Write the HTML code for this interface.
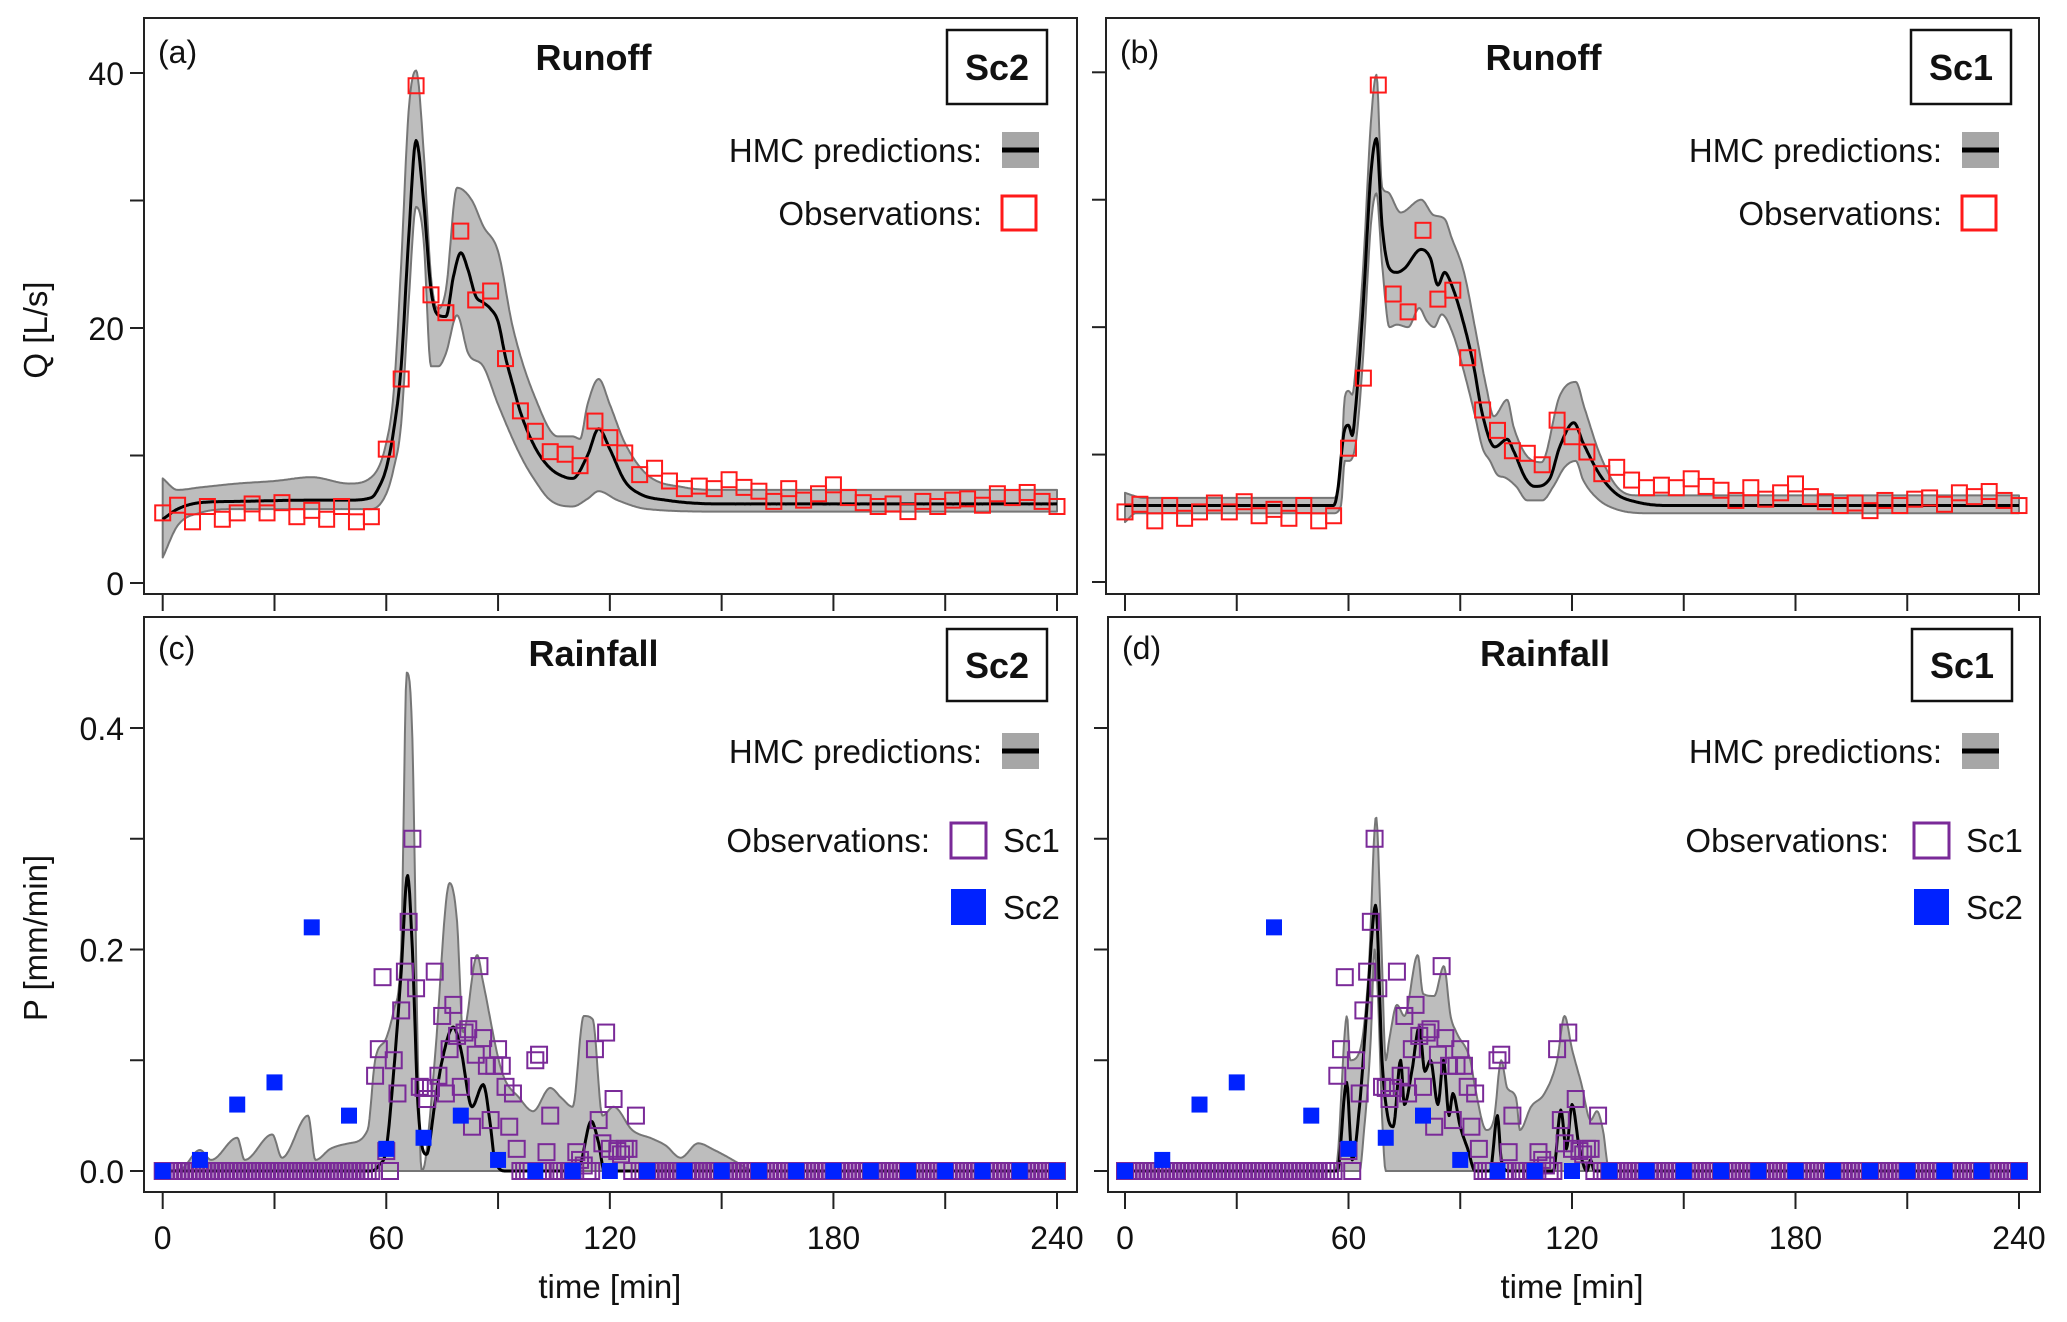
<!DOCTYPE html>
<html><head><meta charset="utf-8"><style>
html,body{margin:0;padding:0;background:#fff;}
svg{display:block;font-family:"Liberation Sans",Arial,sans-serif;}
</style></head><body>
<svg id="fig" width="2067" height="1322" viewBox="0 0 2067 1322" xmlns="http://www.w3.org/2000/svg"></svg>
<script>
// ---------- DATA ----------
const xTicks=[0,30,60,90,120,150,180,210,240];
const xTickLabels=["0","","60","","120","","180","","240"];
const qTicks=[0,10,20,30,40];
const qTickLabels=["0","","20","","40"];
const pTicks=[0,0.1,0.2,0.3,0.4];
const pTickLabels=["0.0","","0.2","","0.4"];

const obsQT=[0,4,8,12,16,20,24,28,32,36,40,44,48,52,56,60,64,68,72,76,80,84,88,92,96,100,104,108,112,116,120,124,128,132,136,140,144,148,152,156,160,164,168,172,176,180,184,188,192,196,200,204,208,212,216,220,224,228,232,236,240];
const obsQV=[5.5,6.1,4.8,6.0,5.0,5.5,6.2,5.5,6.3,5.2,5.7,5.0,6.0,4.8,5.2,10.5,16.0,39.0,22.6,21.2,27.6,22.2,22.9,17.6,13.5,11.9,10.3,10.1,9.2,12.7,11.4,10.2,8.5,9.0,8.0,7.4,7.6,7.4,8.1,7.5,7.2,6.4,7.4,6.5,7.0,7.7,6.7,6.3,6.0,6.2,5.6,6.4,6.0,6.5,6.6,6.1,7.0,6.7,7.1,6.4,6.0];

const aMedT=[0,4,10,20,40,50,56,58,60,62,64,66,68,70,72,74,76,78,80,82,84,86,88,90,92,94,96,100,104,108,110,114,117,120,124,128,135,150,240];
const aMedV=[5.0,5.8,6.3,6.4,6.5,6.5,6.7,7.5,9,12,17,27,34.7,30,23,21,20.9,24,25.9,24.5,22.5,22,21.5,20.5,17.7,15.5,13.4,10.6,9.0,8.3,8.2,10,12.1,10.5,8,7,6.5,6.2,6.2];
const aUpT=[0,4,10,20,30,40,50,56,60,62,64,66,68,70,72,74,76,79,83,86,90,94,100,106,110,112,114,117,120,124,130,140,150,240];
const aUpV=[8.2,7.3,7.5,7.8,8.0,8.3,7.8,8.3,11,15,25,37,40.2,34,24,21.5,23,31,30,28,26,20,14.5,11.5,11.5,11.3,14,16,14,11,8.5,7.5,7.3,7.3];
const aLoT=[0,4,10,20,56,60,62,64,66,68,70,72,74,76,79,82,86,90,96,100,104,110,114,117,122,130,150,240];
const aLoV=[2,4.5,5.5,5.8,5.8,7,9,12.5,22,29.5,27,17,17,18,21,18,17,14,10,8,6.5,6.0,6.6,7.2,6.5,5.8,5.6,5.6];

const bMedT=[0,56,57,59,60,61,62,64,66,67.5,69,71,73,75,79.5,82,84,85.8,87.7,91,93.5,96,99.3,102.6,104.3,107.6,110,114,116.7,120.5,123,127.5,132,137,145.7,240];
const bMedV=[6.0,6.0,7,12,12.3,11.5,14,22,32,34.8,28,24.6,24.3,24.6,26.1,25.4,23.3,24.3,23.3,20.2,17.1,13.1,10.6,11.2,10.3,8.1,7.5,8.1,10.6,12.5,10.9,8.4,6.9,6.3,6.0,6.0];
const bUpT=[0,2,5,56,58,59,60,61,62,64,66,67.5,69,70.5,74,79.5,82.8,85.8,87.7,91,94,97,99,102.6,104.3,107.6,111.8,116.7,121,123.3,127.5,132,137,150,240];
const bUpV=[7.0,6.8,6.6,6.6,9,14.5,15,14.7,17,25,36,39.8,31,30.6,29,30,28.8,28.5,27,24.3,19.9,15.3,13,14.3,12.2,10,9.4,14.6,15.7,13.7,10,7.5,6.8,6.8,6.8];
const bLoT=[0,3,10,56,58,59,60,62,64,66,67.5,69,71,73,76,79,81,83,85,88,91,94,96,98,100,102,105,108,112,115,118,121,123,127,132,140,240];
const bLoV=[4.7,5.4,5.4,5.4,6,9.5,9.5,11,18,28,30.5,25,20,20.2,20,21.5,20.5,20,21,19.5,16.5,13,10.5,9.5,8.4,8.2,7.5,6.4,6.4,7.5,9,9.5,8,6.5,5.7,5.4,5.4];

// rainfall observations
const obsSc1=[0,0,0,0,0,0,0,0,0,0, 0,0,0,0,0,0,0,0,0,0, 0,0,0,0,0,0,0,0,0,0, 0,0,0,0,0,0,0,0,0,0, 0,0,0,0,0,0,0,0,0,0, 0,0,0,0,0,0,0,
 0.086,0.11,0.175,0.018,0,0.1,0.07,0.145,0.18,0.225,0.30,0.165,0.076,0.075,0.065,0.075,0.18,0.086,0.14,0.07,0.11,0.15,0.122,0.076,0.125,0.128,0.04,0.105,0.185,0.12,0.095,0.046,0.095,0.11,0.095,0.076,0.04,0.07,0.02,0,0,0,0,0.1,0.105,0,0.017,0.05,0,0,0,0,0,0,0.017,0.01,0.005,0,0,0.11,0.046,0.025,0.125,0.02,0.065,0.018,0.015,0.02,0.02,0,0.05,
 0,0,0,0,0,0,0,0,0,0,0,0,0,0,0,0,0,0,0,0, 0,0,0,0,0,0,0,0,0,0,0,0,0,0,0,0,0,0,0,0, 0,0,0,0,0,0,0,0,0,0,0,0,0,0,0,0,0,0,0,0, 0,0,0,0,0,0,0,0,0,0,0,0,0,0,0,0,0,0,0,0, 0,0,0,0,0,0,0,0,0,0,0,0,0,0,0,0,0,0,0,0, 0,0,0,0,0,0,0,0,0,0,0,0,0];
const obsSc2T=[0,10,20,30,40,50,60,70,80,90,100,110,120,130,140,150,160,170,180,190,200,210,220,230,240];
const obsSc2V=[0,0.01,0.06,0.08,0.22,0.05,0.02,0.03,0.05,0.01,0,0,0,0,0,0,0,0,0,0,0,0,0,0,0];

const cMedT=[0,56,58,60,62,64,65.7,67,68.5,70.8,73,75,78,80,83,86,88,89,92,110,112,115,117,118.5,240];
const cMedV=[0,0,0.005,0.02,0.09,0.18,0.267,0.2,0.06,0.015,0.06,0.1,0.13,0.11,0.058,0.078,0.04,0.012,0,0,0.005,0.045,0.025,0,0];
const cUpT=[0,5,10,13,20,22,29.4,32,39,41,45,50,55,57,60,62,64,65.5,67,68.5,69.5,70.5,73,77,79,80.6,84.4,86,91,95.7,99.4,104,107,110,113,115.4,118,121,126,131.5,135,139,143.7,148,154,157,160,240];
const cUpV=[0,0.002,0.019,0.01,0.03,0.01,0.033,0.012,0.05,0.01,0.02,0.025,0.037,0.1,0.12,0.145,0.2,0.45,0.39,0.1,0,0.01,0.1,0.26,0.225,0.125,0.195,0.17,0.09,0.066,0.054,0.075,0.066,0.058,0.14,0.137,0.05,0.058,0.037,0.029,0.023,0.012,0.025,0.019,0.008,0.002,0,0];
const cLoT=[0,240];
const cLoV=[0,0];

const dMedT=[0,57,59.5,61,63,65,67.3,69,70.5,72,74,75,77,79,80.5,82,84,85.5,87,88,90,92,94,98,100,101,103,115,117,118.5,120,122,124,125,126,240];
const dMedV=[0,0,0.08,0.01,0.06,0.15,0.24,0.1,0.05,0.04,0.1,0.06,0.09,0.13,0.09,0.1,0.06,0.1,0.05,0.07,0.04,0.02,0,0,0.05,0.01,0,0,0.055,0.02,0.06,0.02,0,0.01,0,0];
const dUpT=[0,56,57,59.6,60.4,63,65.4,67.4,68.7,70,71,73,75,78.6,80,83,85.6,87.4,89,92.7,94,97,99,101,102.6,105,106,109,112.6,116,118,120,122.5,125,126.7,128.3,130,240];
const dUpV=[0,0,0.01,0.14,0.1,0.108,0.18,0.32,0.22,0.1,0.12,0.15,0.14,0.195,0.16,0.158,0.185,0.14,0.125,0.1,0.075,0.037,0.046,0.1,0.075,0.066,0.037,0.058,0.07,0.1,0.14,0.11,0.079,0.046,0.054,0.037,0,0];
const dLoT=[0,63,64,66,67,68,69,70,240];
const dLoV=[0,0,0.03,0.12,0.2,0.15,0.05,0,0];

// ---------- DRAW ----------
const NS="http://www.w3.org/2000/svg";
const svg=document.getElementById('fig');
function mk(tag,attrs,parent){const e=document.createElementNS(NS,tag);for(const k in attrs)e.setAttribute(k,attrs[k]);(parent||svg).appendChild(e);return e;}
function txt(s,attrs,parent){const e=mk('text',attrs,parent);e.textContent=s;return e;}

// monotone cubic (Fritsch-Carlson) interpolation
function mono(T,V){
  const n=T.length,d=[],m=new Array(n).fill(0);
  for(let i=0;i<n-1;i++)d.push((V[i+1]-V[i])/(T[i+1]-T[i]));
  m[0]=d[0];m[n-1]=d[n-2];
  for(let i=1;i<n-1;i++){m[i]=(d[i-1]*d[i]<=0)?0:(d[i-1]+d[i])/2;}
  for(let i=0;i<n-1;i++){if(d[i]===0){m[i]=0;m[i+1]=0;continue;}
    const a=m[i]/d[i],b=m[i+1]/d[i],s=a*a+b*b;if(s>9){const t=3/Math.sqrt(s);m[i]=t*a*d[i];m[i+1]=t*b*d[i];}}
  return function(t){
    if(t<=T[0])return V[0];if(t>=T[n-1])return V[n-1];
    let i=0;while(t>T[i+1])i++;
    const h=T[i+1]-T[i],s=(t-T[i])/h,s2=s*s,s3=s2*s;
    return (2*s3-3*s2+1)*V[i]+(s3-2*s2+s)*h*m[i]+(-2*s3+3*s2)*V[i+1]+(s3-s2)*h*m[i+1];
  };
}

const panels=[
 {id:'a',fx:144,fy:18,fx2:1077,fy2:594,x0:162.7,x1:1057,y0:583,yTop:73,vmax:40,kind:'q',tag:'(a)',title:'Runoff',sc:'Sc2',med:[aMedT,aMedV],up:[aUpT,aUpV],lo:[aLoT,aLoV],left:true},
 {id:'b',fx:1106,fy:18,fx2:2039,fy2:594,x0:1125,x1:2019,y0:582,yTop:72.3,vmax:40,kind:'q',tag:'(b)',title:'Runoff',sc:'Sc1',med:[bMedT,bMedV],up:[bUpT,bUpV],lo:[bLoT,bLoV],left:false},
 {id:'c',fx:144,fy:617,fx2:1077,fy2:1192,x0:162.7,x1:1057,y0:1171,yTop:728,vmax:0.4,kind:'p',tag:'(c)',title:'Rainfall',sc:'Sc2',med:[cMedT,cMedV],up:[cUpT,cUpV],lo:[cLoT,cLoV],left:true},
 {id:'d',fx:1108,fy:617,fx2:2040,fy2:1192,x0:1125,x1:2019,y0:1171,yTop:728,vmax:0.4,kind:'p',tag:'(d)',title:'Rainfall',sc:'Sc1',med:[dMedT,dMedV],up:[dUpT,dUpV],lo:[dLoT,dLoV],left:false}
];

panels.forEach(p=>{
  const g=mk('g',{});
  
  
  const X=t=>p.x0+(p.x1-p.x0)*t/240;
  const Y=v=>p.y0+(p.yTop-p.y0)*v/p.vmax;
  const fUp=mono(p.up[0],p.up[1]),fLo=mono(p.lo[0],p.lo[1]),fMed=mono(p.med[0],p.med[1]);
  const ts=[];for(let t=0;t<=240;t+=0.25)ts.push(t);
  const clamp=v=>p.kind==='p'?Math.max(0,v):v;
  // band
  let d='';ts.forEach((t,i)=>{d+=(i?'L':'M')+X(t).toFixed(1)+','+Y(clamp(fUp(t))).toFixed(1);});
  for(let i=ts.length-1;i>=0;i--){const t=ts[i];d+='L'+X(t).toFixed(1)+','+Y(clamp(fLo(t))).toFixed(1);}
  d+='Z';
  const band=mk('path',{d:d,fill:'#bdbdbd',stroke:'#767676','stroke-width':2,'stroke-linejoin':'round'},g);
  
  
  // median
  let dm='';ts.forEach((t,i)=>{dm+=(i?'L':'M')+X(t).toFixed(1)+','+Y(clamp(fMed(t))).toFixed(1);});
  const ml=mk('path',{d:dm,fill:'none',stroke:'#000','stroke-width':3,'stroke-linejoin':'round'},g);
  
  
  // observations
  if(p.kind==='q'){
    obsQT.forEach((t,i)=>{
      const r=mk('rect',{x:X(t)-7.5,y:Y(obsQV[i])-7.5,width:15,height:15,fill:'none',stroke:'#ff1a1a','stroke-width':2},g);
      
      
    });
  } else {
    obsSc1.forEach((v,t)=>{
      const r=mk('rect',{x:X(t)-8,y:Y(v)-8,width:16,height:16,fill:'none',stroke:'#7a2a98','stroke-width':2},g);
      
      
    });
    obsSc2T.forEach((t,i)=>{
      const r=mk('rect',{x:X(t)-8,y:Y(obsSc2V[i])-8,width:16,height:16,fill:'#0022ff'},g);
      
      
    });
  }
  // frame
  const fr=mk('rect',{x:p.fx,y:p.fy,width:p.fx2-p.fx,height:p.fy2-p.fy,fill:'none',stroke:'#222','stroke-width':2},g);
  
  
  // y ticks
  const yt=p.kind==='q'?qTicks:pTicks, yl=p.kind==='q'?qTickLabels:pTickLabels;
  yt.forEach((v,i)=>{
    const tk=mk('line',{x1:p.fx-14,x2:p.fx,y1:Y(v),y2:Y(v),stroke:'#222','stroke-width':2},g);
    
    
    if(p.left&&yl[i]){const l=txt(yl[i],{x:p.fx-20,y:Y(v)+12,'font-size':32,'text-anchor':'end',fill:'#111'},g);
      
      }
  });
  // x ticks
  xTicks.forEach((t,i)=>{
    const tk=mk('line',{x1:X(t),x2:X(t),y1:p.fy2,y2:p.fy2+17,stroke:'#222','stroke-width':2},g);
    
    
    if(p.kind==='p'&&xTickLabels[i]){const l=txt(xTickLabels[i],{x:X(t),y:1249,'font-size':32,'text-anchor':'middle',fill:'#111'},g);
      
      }
  });
  if(p.kind==='p'){const xl=txt('time [min]',{x:X(120),y:1298,'font-size':33,'text-anchor':'middle',fill:'#111'},g);
    
    }
  // labels
  const ty=p.fy+ (p.kind==='q'?45:42);
  const tg=txt(p.tag,{x:p.fx+14,y:ty,'font-size':32,fill:'#111'},g);
  
  
  const tt=txt(p.title,{x:(p.fx+p.fx2)/2+(p.id==='a'||p.id==='c'?-17:-29),y:ty+7,'font-size':36,'font-weight':'bold','text-anchor':'middle',fill:'#111'},g);
  
  
  const bx=p.fx2-(p.id==='a'||p.id==='c'?130:128);
  const by=p.fy+12, bh=p.kind==='q'?74:72;
  const sb=mk('rect',{x:bx,y:by,width:100,height:bh,fill:'#fff',stroke:'#111','stroke-width':2.5},g);
  
  
  const st=txt(p.sc,{x:bx+50,y:by+bh/2+13,'font-size':36,'font-weight':'bold','text-anchor':'middle',fill:'#111'},g);
  
  
  // legend
  const right=p.left?982:1942;
  const sx=p.left?1002:1962;
  const hy=p.kind==='q'?150:751;
  const ht=txt('HMC predictions:',{x:right,y:hy+12,'font-size':33,'text-anchor':'end',fill:'#111'},g);
  
  
  const sw=mk('rect',{x:sx,y:hy-18,width:37,height:36,fill:'#a6a6a6'},g);
  
  
  mk('line',{x1:sx,x2:sx+37,y1:hy,y2:hy,stroke:'#000','stroke-width':5},g);
  if(p.kind==='q'){
    const ot=txt('Observations:',{x:right,y:225,'font-size':33,'text-anchor':'end',fill:'#111'},g);
    
    
    const os=mk('rect',{x:sx,y:196,width:34,height:34,fill:'none',stroke:'#ff1a1a','stroke-width':3},g);
    
    
  } else {
    const oright=p.left?930:1889, psx=p.left?951:1914;
    const ot=txt('Observations:',{x:oright,y:852,'font-size':33,'text-anchor':'end',fill:'#111'},g);
    
    
    const o1=mk('rect',{x:psx,y:823,width:35,height:35,fill:'none',stroke:'#7a2a98','stroke-width':3},g);
    
    
    const l1=txt('Sc1',{x:psx+52,y:852,'font-size':33,fill:'#111'},g);
    
    
    const o2=mk('rect',{x:psx,y:889,width:35,height:36,fill:'#0022ff'},g);
    
    
    const l2=txt('Sc2',{x:psx+52,y:919,'font-size':33,fill:'#111'},g);
    
    
  }
});
const q=txt('Q [L/s]',{x:0,y:0,'font-size':33,'text-anchor':'middle',fill:'#111',transform:'translate(47,330) rotate(-90)'});


const pp=txt('P [mm/min]',{x:0,y:0,'font-size':33,'text-anchor':'middle',fill:'#111',transform:'translate(47,938) rotate(-90)'});


</script>
</body></html>
